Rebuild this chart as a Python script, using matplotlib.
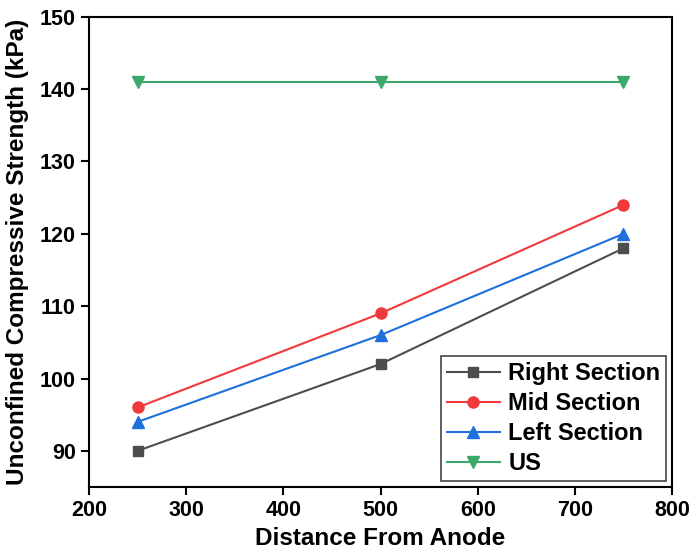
import matplotlib
matplotlib.use("Agg")
import matplotlib.pyplot as plt

# distance from the anode and strength for each section
distance = [250, 500, 750]
right_section = [90, 102, 118]
mid_section = [96, 109, 124]
left_section = [94, 106, 120]
us = [141, 141, 141]

plt.rcParams['font.family'] = ['Liberation Sans', 'DejaVu Sans']
plt.rcParams['font.weight'] = 'bold'

fig = plt.figure(figsize=(6.9, 5.5), dpi=100)
ax = fig.add_axes([0.129, 0.1145, 0.845, 0.855])

ax.plot(distance, right_section, '-s', color='#4d4d4d', ms=7, lw=1.5, label='Right Section')
ax.plot(distance, mid_section, '-o', color='#f0393b', ms=8, lw=1.5, label='Mid Section')
ax.plot(distance, left_section, '-^', color='#1f6fdc', ms=8, lw=1.5, label='Left Section')
ax.plot(distance, us, '-v', color='#3ba769', ms=8, lw=1.5, label='US')

ax.set_xlim(200, 800)
ax.set_ylim(85, 150)
ax.set_xticks(range(200, 801, 100))
ax.set_yticks(range(90, 151, 10))
ax.tick_params(direction='out', length=6, width=1.5, labelsize=15.5)
for s in ax.spines.values():
    s.set_linewidth(1.5)

ax.set_xlabel('Distance From Anode', fontsize=17.5, fontweight='bold', labelpad=4)
ax.set_ylabel('Unconfined Compressive Strength (kPa)', fontsize=17.5, fontweight='bold', labelpad=8)

leg = ax.legend(loc='lower right', fontsize=17, fancybox=False, framealpha=1,
                edgecolor='#444444', handlelength=2.25, borderpad=0.25,
                labelspacing=0.3, handletextpad=0.35, borderaxespad=0.25)
leg.get_frame().set_linewidth(1.2)

fig.savefig('out.png', dpi=100)
